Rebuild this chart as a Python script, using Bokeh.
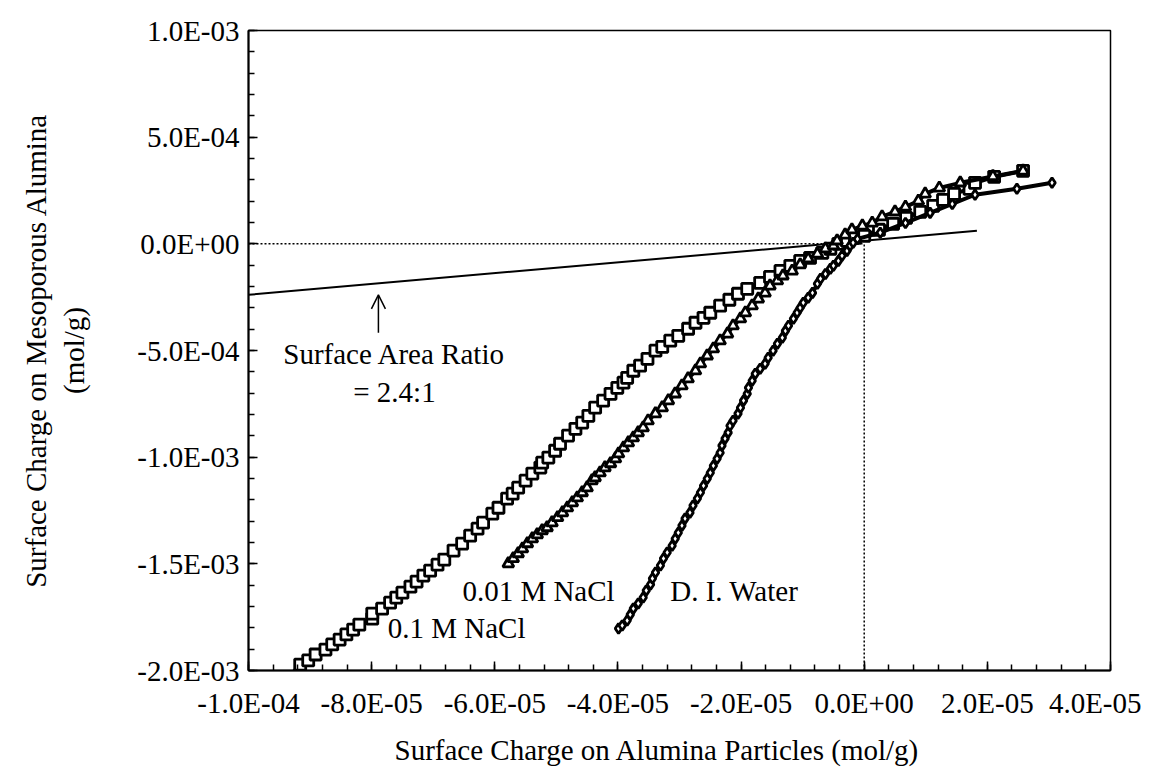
import numpy as np
from bokeh.plotting import figure
from bokeh.models import Range1d, FixedTicker, Label, Arrow, OpenHead, Title
from bokeh.embed import file_html
from bokeh.resources import INLINE

# ---------------- data ----------------
x_ticks = [-1.0e-4, -8.0e-5, -6.0e-5, -4.0e-5, -2.0e-5, 0.0, 2.0e-5, 4.0e-5]
x_tick_labels = ["-1.0E-04", "-8.0E-05", "-6.0E-05", "-4.0E-05", "-2.0E-05", "0.0E+00", "2.0E-05", "4.0E-05"]
y_ticks = [-2.0e-3, -1.5e-3, -1.0e-3, -5.0e-4, 0.0, 5.0e-4, 1.0e-3]
y_tick_labels = ["-2.0E-03", "-1.5E-03", "-1.0E-03", "-5.0E-04", "0.0E+00", "5.0E-04", "1.0E-03"]

# 0.1 M NaCl (squares): x in 1e-5 mol/g, y in 1e-4 mol/g
nacl01_x = [-9.38, -9.16, -9.03, -8.91, -8.75, -8.64, -8.52, -8.41, -8.30, -8.20,
            -7.99, -7.99, -7.83, -7.70, -7.60, -7.50, -7.37, -7.27, -7.16, -7.05,
            -6.93, -6.82, -6.67, -6.53, -6.40, -6.28, -6.19, -6.04, -5.94, -5.80,
            -5.71, -5.62, -5.50, -5.39, -5.26, -5.23, -5.13, -5.02, -4.94, -4.81,
            -4.69, -4.58, -4.48, -4.37, -4.24, -4.12, -4.01, -3.91, -3.85, -3.75,
            -3.64, -3.52, -3.39, -3.28, -3.15, -3.02, -2.86, -2.74, -2.61, -2.50,
            -2.34, -2.19, -2.05, -1.90, -1.69, -1.53, -1.36, -1.20, -1.04, -0.88,
            -0.68, -0.55, -0.42, -0.28, -0.15, 0.00, 0.24, 0.47, 0.68, 0.91,
            1.12, 1.28, 1.46, 1.71, 1.80, 2.11, 2.58]
nacl01_y = [-20.42, -19.72, -19.53, -19.25, -19.02, -18.78, -18.55, -18.31, -18.08, -17.85,
            -17.57, -17.33, -17.10, -16.82, -16.58, -16.35, -16.07, -15.83, -15.55, -15.32,
            -15.04, -14.80, -14.38, -14.05, -13.68, -13.35, -13.07, -12.65, -12.37, -11.94,
            -11.71, -11.43, -11.10, -10.77, -10.49, -10.26, -10.02, -9.70, -9.37, -8.99,
            -8.67, -8.38, -8.06, -7.68, -7.35, -7.03, -6.75, -6.51, -6.28, -5.95,
            -5.71, -5.39, -5.01, -4.83, -4.54, -4.31, -3.98, -3.70, -3.47, -3.23,
            -2.90, -2.62, -2.34, -2.11, -1.83, -1.55, -1.27, -1.03, -0.80, -0.66,
            -0.42, -0.23, 0.00, 0.14, 0.28, 0.38, 0.66, 0.94, 1.22, 1.50,
            1.78, 2.06, 2.34, 2.58, 2.86, 3.14, 3.42]

# 0.01 M NaCl (triangles)
nacl001_x = [-5.78, -5.70, -5.62, -5.55, -5.47, -5.39, -5.31, -5.23, -5.15, -5.07,
             -4.98, -4.90, -4.82, -4.74, -4.66, -4.58, -4.50, -4.42, -4.37, -4.29,
             -4.21, -4.12, -4.04, -3.99, -3.91, -3.83, -3.75, -3.67, -3.59, -3.51,
             -3.39, -3.28, -3.18, -3.07, -2.96, -2.86, -2.74, -2.66, -2.55, -2.45,
             -2.34, -2.22, -2.13, -2.01, -1.93, -1.82, -1.72, -1.61, -1.53, -1.41,
             -1.32, -1.17, -1.04, -0.91, -0.76, -0.63, -0.50, -0.44, -0.31, -0.20,
             -0.03, 0.13, 0.29, 0.50, 0.67, 0.88, 0.99, 1.22, 1.56, 2.09, 2.58]
nacl001_y = [-14.99, -14.75, -14.52, -14.29, -14.05, -13.82, -13.63, -13.44, -13.30, -13.07,
             -12.83, -12.60, -12.37, -12.13, -11.90, -11.66, -11.43, -11.10, -10.96, -10.73,
             -10.49, -10.30, -10.07, -9.84, -9.56, -9.32, -9.09, -8.85, -8.62, -8.29,
             -7.96, -7.68, -7.35, -7.03, -6.65, -6.32, -5.95, -5.62, -5.25, -4.92,
             -4.54, -4.22, -3.84, -3.51, -3.23, -2.90, -2.58, -2.30, -1.97, -1.73,
             -1.50, -1.27, -0.98, -0.70, -0.47, -0.23, -0.09, 0.14, 0.42, 0.66,
             0.84, 0.98, 1.27, 1.50, 1.73, 2.01, 2.34, 2.62, 2.86, 3.16, 3.42]

# D. I. Water (diamonds)
diw_x = [-3.99, -3.93, -3.85, -3.80, -3.75, -3.67, -3.59, -3.54, -3.47, -3.44,
         -3.39, -3.31, -3.26, -3.20, -3.12, -3.07, -3.02, -2.96, -2.91, -2.83,
         -2.78, -2.71, -2.66, -2.61, -2.55, -2.50, -2.45, -2.39, -2.34, -2.31,
         -2.26, -2.21, -2.18, -2.13, -2.05, -2.01, -1.96, -1.90, -1.88, -1.82,
         -1.77, -1.69, -1.61, -1.56, -1.48, -1.41, -1.33, -1.28, -1.23, -1.15,
         -1.09, -1.04, -0.99, -0.91, -0.84, -0.76, -0.71, -0.63, -0.55, -0.50,
         -0.42, -0.36, -0.28, -0.23, -0.18, -0.11, 0.26, 0.67, 1.07, 1.43,
         1.80, 2.48, 3.05]
diw_y = [-18.03, -17.89, -17.66, -17.38, -17.10, -16.86, -16.58, -16.25, -15.97, -15.69,
         -15.41, -15.08, -14.75, -14.47, -14.15, -13.82, -13.54, -13.21, -12.88, -12.60,
         -12.27, -11.94, -11.66, -11.34, -11.01, -10.73, -10.40, -10.07, -9.79, -9.46,
         -9.13, -8.85, -8.53, -8.29, -7.96, -7.68, -7.35, -7.03, -6.75, -6.42,
         -6.09, -5.86, -5.62, -5.34, -5.01, -4.68, -4.40, -4.08, -3.84, -3.51,
         -3.23, -3.00, -2.76, -2.53, -2.30, -1.87, -1.64, -1.41, -1.17, -1.03,
         -0.80, -0.56, -0.33, -0.09, 0.05, 0.23, 0.52, 0.98, 1.45, 1.87,
         2.30, 2.58, 2.86]

# surface-area-ratio reference line (endpoints)
ratio_x = [-1.0e-4, 1.83e-5]
ratio_y = [-2.39e-4, 6.1e-5]

X_UNIT = 1e-5
Y_UNIT = 1e-4

# ---------------- figure ----------------
FONT = "Liberation Serif"
FS = "29px"

p = figure(frame_width=862, frame_height=640, output_backend="svg", toolbar_location=None,
           x_range=Range1d(-1.0e-4, 4.0e-5), y_range=Range1d(-2.0e-3, 1.0e-3),
           min_border_left=248, min_border_right=31, min_border_top=30, min_border_bottom=100)
p.background_fill_color = "white"
p.border_fill_color = "white"
p.outline_line_color = "black"
p.outline_line_width = 1.5
p.xgrid.visible = False
p.ygrid.visible = False

x_minor = list(np.arange(-100, 41, 4) * 1e-6)
y_minor = list(np.arange(-20, 11, 1) * 1e-4)
p.xaxis.ticker = FixedTicker(ticks=x_ticks, minor_ticks=x_minor)
p.yaxis.ticker = FixedTicker(ticks=y_ticks, minor_ticks=y_minor)
p.xaxis.major_label_overrides = {t: s for t, s in zip(x_ticks, x_tick_labels)}
p.yaxis.major_label_overrides = {t: s for t, s in zip(y_ticks, y_tick_labels)}

for ax in (p.xaxis, p.yaxis):
    ax.axis_line_color = "black"
    ax.axis_line_width = 2
    ax.major_tick_in = 9
    ax.major_tick_out = 0
    ax.minor_tick_in = 6
    ax.minor_tick_out = 0
    ax.major_tick_line_width = 1.5
    ax.minor_tick_line_width = 1.5
    ax.major_tick_line_color = "black"
    ax.minor_tick_line_color = "black"
    ax.major_label_text_font = FONT
    ax.major_label_text_font_size = FS
    ax.major_label_text_color = "black"
    ax.axis_label_text_font = FONT
    ax.axis_label_text_font_size = FS
    ax.axis_label_text_font_style = "normal"
    ax.axis_label_text_color = "black"

p.xaxis.major_label_standoff = 16
p.yaxis.major_label_standoff = 9

# y title: two centred lines
p.yaxis.axis_label = "Surface Charge on Mesoporous Alumina\n(mol/g)"
p.yaxis.axis_label_standoff = 44

# x title as a side-panel title (so it can be nudged left)
p.add_layout(Title(text="Surface Charge on Alumina Particles (mol/g)", align="left",
                   offset=146, standoff=20, text_font=FONT, text_font_size=FS,
                   text_font_style="normal", text_color="black"), "below")

# dotted zero guides
p.line([-1.0e-4, 0.0], [0.0, 0.0], line_color="black", line_width=1.5, line_dash="2 2")
p.line([0.0, 0.0], [-2.0e-3, 0.0], line_color="black", line_width=1.5, line_dash="2 2")

# ratio line
p.line(ratio_x, ratio_y, line_color="black", line_width=2)

sx = np.array(nacl01_x) * X_UNIT
sy = np.array(nacl01_y) * Y_UNIT
tx = np.array(nacl001_x) * X_UNIT
ty = np.array(nacl001_y) * Y_UNIT
dx = np.array(diw_x) * X_UNIT
dy = np.array(diw_y) * Y_UNIT

p.line(sx, sy, line_color="black", line_width=4)
p.scatter(sx, sy, marker="square", size=11, fill_color="white", line_color="black", line_width=2.8)
p.line(tx, ty, line_color="black", line_width=4)
p.scatter(tx, ty, marker="triangle", size=11, fill_color="white", line_color="black", line_width=2.8)
p.line(dx, dy, line_color="black", line_width=4)
p.scatter(dx, dy, marker="diamond", size=10, fill_color="white", line_color="black", line_width=2.8)

# annotations
p.add_layout(Arrow(end=OpenHead(size=14, line_width=1.5, line_color="black"),
                   x_start=-7.89e-5, y_start=-4.17e-4, x_end=-7.89e-5, y_end=-2.39e-4,
                   line_width=1.5, line_color="black"))

def lab(x, y, text):
    p.add_layout(Label(x=x, y=y, text=text, text_font=FONT, text_font_size=FS,
                       text_align="center", text_baseline="middle", text_color="black"))

lab(-7.63e-5, -5.15e-4, "Surface Area Ratio")
lab(-7.63e-5, -6.93e-4, "= 2.4:1")
lab(-5.29e-5, -1.625e-3, "0.01 M NaCl")
lab(-6.62e-5, -1.803e-3, "0.1 M NaCl")
lab(-2.11e-5, -1.625e-3, "D. I. Water")

open("out.html", "w").write(file_html(p, INLINE))
